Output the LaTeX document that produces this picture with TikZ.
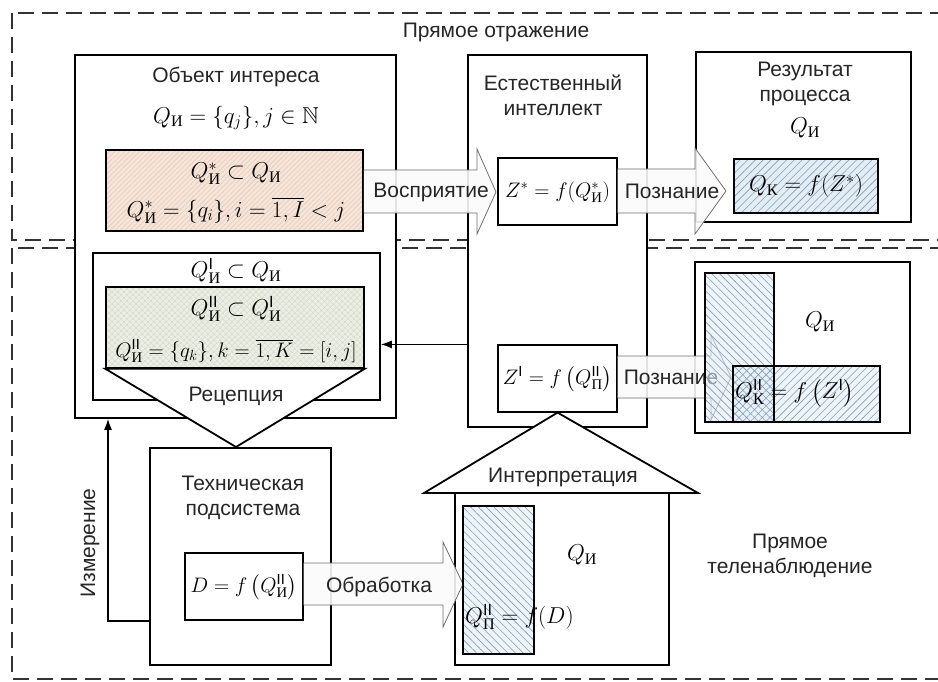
\RequirePackage{fix-cm}
\documentclass[tikz,border=0pt]{standalone}
\usepackage{amsmath,amssymb}
\usepackage{fontspec}
\setmainfont{Liberation Sans}
\newfontfamily\cyserif{Liberation Serif}
\usetikzlibrary{patterns.meta,arrows.meta}
\newcommand\cyI{\text{\cyserif И}}
\newcommand\cyK{\text{\cyserif К}}
\newcommand\cyP{\text{\cyserif П}}
\newcommand\sI{\text{I}}
\newcommand\sII{\text{II}}
\definecolor{hatchbg}{HTML}{E4EDF4}
\definecolor{hatchln}{HTML}{7F9FBC}
\definecolor{orbg}{HTML}{F5E5DA}
\definecolor{orln}{HTML}{EACFBD}
\definecolor{grbg}{HTML}{EAEEE3}
\definecolor{grln}{HTML}{D2D8C8}
\definecolor{arrowln}{HTML}{707070}
\tikzset{
  region/.style={draw=black!80, line width=1.4pt, dash pattern=on 16pt off 8pt},
  bigbox/.style={draw, line width=1.8pt, inner sep=0pt, fill=white},
  smallbox/.style={draw, line width=1.2pt, inner sep=0pt, fill=white},
  txt/.style={font=\fontsize{21}{25}\selectfont, align=center, inner sep=0pt, text=black!85},
  mth/.style={font=\fontsize{23}{26}\selectfont, inner sep=0pt},
  mthsmall/.style={font=\fontsize{21}{24}\selectfont, inner sep=0pt},
  blockarrow/.style={draw=arrowln, line width=0.8pt, fill=gray!3, fill opacity=0.9},
  hatchA/.style={pattern={Lines[angle=45,distance=5.5pt,line width=0.6pt]}, pattern color=hatchln},
  hatchB/.style={pattern={Lines[angle=-45,distance=5.5pt,line width=0.6pt]}, pattern color=hatchln},
  tri/.style={draw, line width=1.8pt, fill=white, line join=miter}
}
\begin{document}
\begin{tikzpicture}[x=1pt,y=-1pt]
\useasboundingbox (0,0) rectangle (938,682);
\clip (0,0) rectangle (938,682);
\fill[white] (0,0) rectangle (938,682);
% regions
\draw[region] (12,13) rectangle (960,240);
\draw[region] (12,248) rectangle (960,679);
\node[txt] (t0) at (496,32) {Прямое отражение};
% object of interest
\node[bigbox, minimum width=321pt, minimum height=363pt] (obj) at (235.5,236.5) {};
\node[txt] (t1) at (236,77) {Объект интереса};
\node[mth] (m1) at (236,118) {$Q_{\cyI} = \{q_j\}, j \in \mathbb{N}$};
\path[preaction={fill=orbg}, pattern={Lines[angle=45,distance=3.5pt,line width=0.8pt]}, pattern color=orln] (106,150) rectangle (363,231);
\node[draw, line width=1.5pt, inner sep=0pt, minimum width=257pt, minimum height=81pt] (qs) at (234.5,190.5) {};
\node[mth] (m2) at (236,174) {$Q^*_{\cyI} \subset Q_{\cyI}$};
\node[mth] (m3) at (236,210) {$Q^*_{\cyI} = \{q_i\}, i = \overline{1,I} < j$};
% Q^I box
\node[draw, line width=1.8pt, inner sep=0pt, minimum width=287pt, minimum height=147pt] (qI) at (236.5,326.5) {};
\node[mth] (m4) at (236,271) {$Q^{\sI}_{\cyI} \subset Q_{\cyI}$};
\path[preaction={fill=grbg}, pattern={Lines[angle=45,distance=4pt,line width=0.5pt]}, pattern color=grln,
      postaction={pattern={Lines[angle=-45,distance=4pt,line width=0.5pt]}, pattern color=grln}] (106,287) rectangle (364,368);
\node[draw, line width=1.5pt, inner sep=0pt, minimum width=258pt, minimum height=81pt] (qII) at (235,327.5) {};
\node[mth] (m5) at (236,309) {$Q^{\sII}_{\cyI} \subset Q^{\sI}_{\cyI}$};
\node[mthsmall] (m6) at (236,351) {$Q^{\sII}_{\cyI} = \{q_k\}, k = \overline{1,K} = [i,j]$};
% natural intellect
\node[bigbox, minimum width=179pt, minimum height=372pt] (nat) at (557.5,241) {};
\node[txt] (t2) at (553,95) {Естественный\\интеллект};
\node[smallbox, minimum width=119pt, minimum height=67pt] (zs) at (557.5,191.5) {};
\node[mthsmall] (m7) at (557.5,192) {$Z^* = f(Q^*_{\cyI})$};
\node[smallbox, minimum width=119pt, minimum height=67pt] (zI) at (557.5,378.5) {};
\node[mthsmall] (m8) at (557.5,379) {$Z^{\sI} = f\left(Q^{\sII}_{\cyP}\right)$};
% result box
\node[bigbox, minimum width=215pt, minimum height=170pt] (res) at (803.5,137) {};
\node[txt] (t3) at (805,84) {Результат\\процесса};
\node[mth] (m9) at (805,128) {$Q_{\cyI}$};
\path[preaction={fill=hatchbg}, hatchA] (734,159) rectangle (878,213);
\node[draw, line width=1.8pt, inner sep=0pt, minimum width=144pt, minimum height=54pt] (qk) at (806,186) {};
\node[mth] (m10) at (806,186) {$Q_{\cyK} = f(Z^*)$};
% lower right box
\node[bigbox, minimum width=215pt, minimum height=171pt] (res2) at (802.5,347.5) {};
\node[mth] (m11) at (820,322) {$Q_{\cyI}$};
% arrows upper
\draw[blockarrow] (qs.east |- 0,170) -- (477,170) -- (477,149) -- (496,192) -- (477,234) -- (477,213) -- (qs.east |- 0,213);
\node[txt] (t4) at (431,192) {Восприятие};
\draw[blockarrow] (zs.east |- 0,169) -- (695,169) -- (695,148) -- (726,191) -- (695,234) -- (695,213) -- (zs.east |- 0,213);
\node[txt] (t5) at (672,191) {Познание};
% lower Познание
\draw[blockarrow] (zI.east |- 0,356) -- (711,356) -- (711,335) -- (731,377) -- (711,420) -- (711,398) -- (zI.east |- 0,398);
\node[txt] (t6) at (671,377) {Познание};
% hatched rects lower right
\fill[hatchbg, fill opacity=0.6] (705,273) rectangle (774,422);
\fill[hatchbg, fill opacity=0.6] (733,366) rectangle (880,422);
\path[hatchB] (705,273) rectangle (774,422);
\path[hatchA] (733,366) rectangle (880,422);
\node[draw, line width=1.8pt, inner sep=0pt, minimum width=69pt, minimum height=149pt] (vr) at (739.5,347.5) {};
\node[draw, line width=1.8pt, inner sep=0pt, minimum width=147pt, minimum height=56pt] (hr) at (806.5,394) {};
\node[mth, anchor=west] (m12) at (735,393) {$Q^{\sII}_{\cyK} = f\left(Z^{\sI}\right)$};
% reception triangle
\draw[tri] (qII.south west) -- (qII.south east) -- (236,447) -- cycle;
\node[txt] (t7) at (236,396) {Рецепция};
% arrow nat -> qI
\draw[line width=1.2pt, -{Latex[length=11pt,width=8pt]}] (nat.west |- zI.north) -- (qI.east |- zI.north);
% technical subsystem
\node[bigbox, minimum width=181pt, minimum height=217pt] (tech) at (240.5,556.5) {};
\node[txt] (t8) at (243,498) {Техническая\\подсистема};
\node[smallbox, minimum width=118pt, minimum height=67pt] (dbox) at (244,586.5) {};
\node[mthsmall] (m13) at (244,587) {$D = f\left(Q^{\sII}_{\cyI}\right)$};
% Измерение
\coordinate (mc) at (108,621);
\draw[line width=1.2pt, -{Latex[length=11pt,width=8pt]}] (tech.west |- mc) -- (mc) -- (mc |- obj.south);
\node[txt, rotate=90] (t9) at (90,543) {Измерение};
% house
\node[bigbox, minimum width=214pt, minimum height=172pt] (house) at (562,579) {};
\draw[tri] (424,493) -- (698,493) -- (zI.south) -- cycle;
\node[txt] (t10) at (563,477) {Интерпретация};
\draw[blockarrow] (dbox.east |- 0,563) -- (443,563) -- (443,542) -- (463,584) -- (443,627) -- (443,605) -- (dbox.east |- 0,605);
\node[txt] (t11) at (379,587) {Обработка};
\path[preaction={fill=hatchbg, fill opacity=0.6}, hatchB] (463,506) rectangle (534,654);
\node[draw, line width=1.8pt, inner sep=0pt, minimum width=71pt, minimum height=148pt] (pr) at (498.5,580) {};
\node[mth] (m14) at (582,555) {$Q_{\cyI}$};
\node[mth, anchor=west] (m15) at (465,617) {$Q^{\sII}_{\cyP} = f(D)$};
\node[txt] (t12) at (790,556) {Прямое\\теленаблюдение};
\end{tikzpicture}
\end{document}
